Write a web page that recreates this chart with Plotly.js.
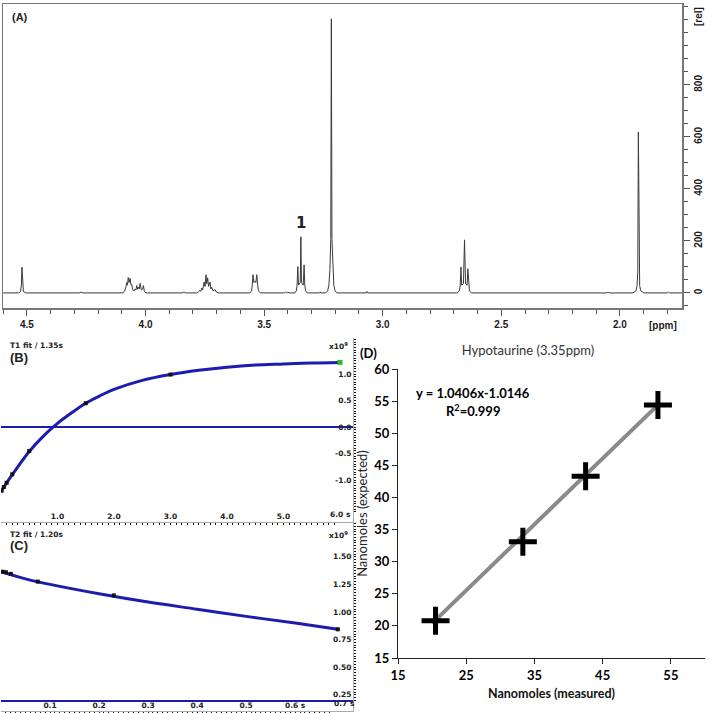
<!DOCTYPE html>
<html>
<head>
<meta charset="utf-8">
<script src="https://cdn.plot.ly/plotly-3.0.1.min.js"></script>
<style>html,body{margin:0;padding:0;background:#fff;}#chart{width:709px;height:713px;}</style>
</head>
<body>
<div id="chart"></div>
<script>
// ---------- Panel A: 1H NMR spectrum (ppm, relative intensity) ----------
const ppm = [4.600,4.535,4.527,4.5235,4.521,4.5185,4.515,4.505,
  4.280,4.272,4.264,
  4.095,4.088,4.082,4.079,4.076,4.073,4.069,4.065,4.061,4.058,4.054,4.048,4.044,4.040,4.037,4.033,4.029,4.026,4.023,4.018,4.013,4.009,4.005,3.998,
  3.845,3.838,3.831,
  3.785,3.777,3.770,3.767,3.763,3.759,3.753,3.749,3.745,3.742,3.738,3.734,3.728,3.725,3.721,3.716,3.712,3.707,3.702,3.694,
  3.560,3.553,3.550,3.547,3.543,3.539,3.535,3.531,3.527,3.524,3.516,
  3.415,3.410,3.405,3.400,3.395,
  3.370,3.364,3.361,3.358,3.355,3.3475,3.345,3.3425,3.335,3.3315,3.3285,3.325,3.318,
  3.268,3.264,3.260,
  3.240,3.232,3.227,3.2225,3.219,3.2165,3.214,3.2105,3.206,3.201,3.193,
  3.070,3.067,3.064,
  2.685,2.677,2.673,2.670,2.667,2.6595,2.655,2.6505,2.644,2.641,2.638,2.634,2.626,
  2.055,2.050,2.045,
  1.945,1.932,1.9275,1.9245,1.922,1.9195,1.9165,1.912,1.899,
  1.800,1.795,1.790,1.738];
const intensity = [0,0,5,30,99,30,5,0,
  0,3,0,
  0,8,25,40,30,59,40,56,30,32,12,8,15,12,28,14,22,16,37,12,14,28,6,0,
  0,3,0,
  0,4,10,6,19,12,42,25,70,35,58,25,42,15,22,8,10,13,4,0,
  0,8,30,70,40,45,40,70,30,8,0,
  0,3,0,3,0,
  0,8,30,101,30,40,216,40,30,108,30,8,0,
  0,3,0,
  0,8,30,90,205,1054,205,90,30,8,0,
  0,6,0,
  0,8,30,100,30,35,204,35,30,93,30,8,0,
  0,3,0,
  0,8,28,80,619,80,28,8,0,
  0,3,0,0];
const ppmTicks = [4.5,4.0,3.5,3.0,2.5,2.0];
const ppmTickText = ['4.5','4.0','3.5','3.0','2.5','2.0'];
const relTicks = [0,200,400,600,800];
const relTickText = ['0','200','400','600','800'];

// ---------- Panel B: T1 fit (s, x10^9) ----------
const t1Time = [0.01,0.05,0.1,0.2,0.5,1.5,3.0];
const t1Signal = [-1.20,-1.13,-1.05,-0.89,-0.45,0.45,0.99];
const t1LastTime = [6.0];
const t1LastSignal = [1.22];
const t1FitTime = [0,0.1,0.25,0.5,0.75,1.0,1.25,1.5,1.75,2.0,2.5,3.0,3.5,4.0,4.5,5.0,5.5,6.0];
const t1FitSignal = [-1.22,-1.05,-0.82,-0.46,-0.17,0.07,0.27,0.45,0.59,0.71,0.88,0.99,1.07,1.13,1.17,1.19,1.21,1.22];
const t1Ticks = [1,2,3,4,5];
const t1TickText = ['1.0','2.0','3.0','4.0','5.0'];
const t1EndTick = 6.0, t1EndText = '6.0 s';
const t1YTicks = [1.0,0.5,0.0,-0.5,-1.0];
const t1YTickText = ['1.0','0.5','0.0','-0.5','-1.0'];

// ---------- Panel C: T2 fit (s, x10^9) ----------
const t2Time = [0.003,0.01,0.02,0.075,0.23,0.687];
const t2Signal = [1.365,1.36,1.345,1.275,1.15,0.843];
const t2FitTime = [0,0.05,0.1,0.2,0.3,0.4,0.5,0.6,0.687];
const t2FitSignal = [1.365,1.30,1.25,1.165,1.09,1.025,0.96,0.90,0.843];
const t2BaseTime = [0,0.718];
const t2BaseSignal = [0.194,0.194];
const t2Ticks = [0.1,0.2,0.3,0.4,0.5,0.6];
const t2TickText = ['0.1','0.2','0.3','0.4','0.5','0.6 s'];
const t2EndTick = 0.7, t2EndText = '0.7 s';
const t2YTicks = [0.25,0.5,0.75,1.0,1.25,1.5];
const t2YTickText = ['0.25','0.50','0.75','1.00','1.25','1.50'];

// ---------- Panel D: calibration ----------
const measured = [20.5,33.3,42.5,53.1];
const expected = [20.8,33.1,43.3,54.4];
const trendX = [20.0,53.0];
const trendY = [20.4,54.3];
const dXTicks = [15,25,35,45,55];
const dYTicks = [15,20,25,30,35,40,45,50,55,60];

// ---------- helpers for placement (pixel -> paper) ----------
const W = 709, H = 713;
const px = x => x / W;
const py = y => 1 - y / H;
function range(a, b, s) { const o = []; for (let v = a; v <= b + 1e-9; v += s) o.push(+v.toFixed(4)); return o; }
const bold = arr => arr.map(s => '<b>' + s + '</b>');

const blue = '#1c1cae';
const nmrFont = {family: 'Liberation Sans, Arial, sans-serif', size: 10, color: '#1a1a1a', weight: 700};
const smallFont = {family: 'DejaVu Sans, sans-serif', size: 7.5, color: '#222', weight: 700};
const dFont = {family: 'Lato, Open Sans, sans-serif', size: 13, color: '#000', weight: 700};

const traces = [
  {x: ppm, y: intensity, xaxis: 'x', yaxis: 'y', mode: 'lines', line: {color: '#3a3a3a', width: 1}, hoverinfo: 'skip'},
  {x: t1FitTime, y: t1FitSignal, xaxis: 'x2', yaxis: 'y2', mode: 'lines', line: {color: blue, width: 3, shape: 'spline'}},
  {x: t1Time, y: t1Signal, xaxis: 'x2', yaxis: 'y2', mode: 'markers', marker: {symbol: 'square', size: 4, color: '#111'}},
  {x: t1LastTime, y: t1LastSignal, xaxis: 'x2', yaxis: 'y2', mode: 'markers', marker: {symbol: 'square', size: 5, color: '#2db82d'}},
  {x: t2BaseTime, y: t2BaseSignal, xaxis: 'x3', yaxis: 'y3', mode: 'lines', line: {color: blue, width: 2}},
  {x: t2FitTime, y: t2FitSignal, xaxis: 'x3', yaxis: 'y3', mode: 'lines', line: {color: blue, width: 3, shape: 'spline'}},
  {x: t2Time, y: t2Signal, xaxis: 'x3', yaxis: 'y3', mode: 'markers', marker: {symbol: 'square', size: 4, color: '#111'}},
  {x: trendX, y: trendY, xaxis: 'x4', yaxis: 'y4', mode: 'lines', line: {color: '#8a8a8a', width: 4}},
  {x: measured, y: expected, xaxis: 'x4', yaxis: 'y4', mode: 'markers', marker: {symbol: 'cross-thin', size: 20, line: {width: 5, color: '#000'}}}
];

const layout = {
  width: W, height: H,
  margin: {l: 0, r: 0, t: 0, b: 0},
  paper_bgcolor: '#fff', plot_bgcolor: '#fff',
  showlegend: false,
  title: {text: 'Hypotaurine (3.35ppm)', x: px(528), y: py(350), xref: 'paper', yref: 'paper', xanchor: 'center', yanchor: 'middle',
          font: {family: 'Lato, Open Sans, sans-serif', size: 13, color: '#333'}},
  // Panel A
  xaxis: {domain: [px(3), px(682)], range: [4.601, 1.738], anchor: 'y', showline: true, linecolor: '#777', linewidth: 1.5, mirror: true,
          ticks: 'outside', ticklen: 6, tickcolor: '#555', tickvals: ppmTicks, ticktext: bold(ppmTickText), tickfont: nmrFont,
          minor: {tickmode: 'array', tickvals: range(1.8, 4.6, 0.1), ticks: 'outside', ticklen: 4, tickcolor: '#555'},
          showgrid: false, zeroline: false, fixedrange: true},
  yaxis: {domain: [py(308), py(4)], range: [-58, 1111], anchor: 'x', side: 'right', showline: true, linecolor: '#777', linewidth: 1.5, mirror: true,
          ticks: 'outside', ticklen: 6, tickcolor: '#555', tickvals: relTicks, ticktext: bold(relTickText), tickangle: -90, tickfont: nmrFont,
          minor: {tickmode: 'array', tickvals: range(-50, 1100, 50), ticks: 'outside', ticklen: 4, tickcolor: '#555'},
          showgrid: false, zeroline: false, fixedrange: true},
  // Panel B
  xaxis2: {domain: [px(1), px(353)], range: [0, 6.23], anchor: 'y2', showline: true, linecolor: '#aaa', linewidth: 1,
           ticks: 'outside', ticklen: 2, tickcolor: '#111', ticklabelposition: 'inside', tickvals: t1Ticks, ticktext: bold(t1TickText), tickfont: smallFont,
           minor: {tickmode: 'array', tickvals: range(0.1, 6.2, 0.1), ticks: 'outside', ticklen: 2, tickcolor: '#111'},
           showgrid: false, zeroline: false},
  yaxis2: {domain: [py(522), py(338)], range: [-1.79, 1.68], anchor: 'x2', side: 'right', showline: true, linecolor: '#aaa', linewidth: 1,
           ticks: 'outside', ticklen: 2, tickcolor: '#111', ticklabelposition: 'inside', tickvals: t1YTicks, ticktext: bold(t1YTickText), tickfont: smallFont,
           minor: {tickmode: 'array', tickvals: range(-1.75, 1.65, 0.05), ticks: 'outside', ticklen: 2, tickcolor: '#111'},
           showgrid: false, zeroline: true, zerolinecolor: blue, zerolinewidth: 2},
  // Panel C
  xaxis3: {domain: [px(1), px(353)], range: [0, 0.718], anchor: 'y3', showline: true, linecolor: '#aaa', linewidth: 1,
           ticks: 'outside', ticklen: 2, tickcolor: '#111', ticklabelposition: 'inside', tickvals: t2Ticks, ticktext: bold(t2TickText), tickfont: smallFont,
           minor: {tickmode: 'array', tickvals: range(0.01, 0.71, 0.01), ticks: 'outside', ticklen: 2, tickcolor: '#111'},
           showgrid: false, zeroline: false},
  yaxis3: {domain: [py(711), py(522)], range: [0.103, 1.815], anchor: 'x3', side: 'right', showline: true, linecolor: '#aaa', linewidth: 1,
           ticks: 'outside', ticklen: 2, tickcolor: '#111', ticklabelposition: 'inside', tickvals: t2YTicks, ticktext: bold(t2YTickText), tickfont: smallFont,
           minor: {tickmode: 'array', tickvals: range(0.125, 1.8, 0.025), ticks: 'outside', ticklen: 2, tickcolor: '#111'},
           showgrid: false, zeroline: false},
  // Panel D
  xaxis4: {domain: [px(398), px(705)], range: [15, 60], anchor: 'y4', showline: true, linecolor: '#222', linewidth: 1,
           ticks: 'outside', ticklen: 5, tickcolor: '#222', tickvals: dXTicks, ticktext: bold(dXTicks), tickfont: dFont,
           title: {text: '<b>Nanomoles (measured)</b>', font: {family: 'Lato, Open Sans, sans-serif', size: 12.5, color: '#111', weight: 700}, standoff: 7},
           showgrid: false, zeroline: false, automargin: false},
  yaxis4: {domain: [py(658), py(369)], range: [15, 60], anchor: 'x4', showline: true, linecolor: '#222', linewidth: 1,
           ticks: 'outside', ticklen: 5, tickcolor: '#222', tickvals: dYTicks, ticktext: bold(dYTicks), tickfont: dFont,
           title: {text: 'Nanomoles (expected)', font: {family: 'Lato, Open Sans, sans-serif', size: 13, color: '#222'}, standoff: 3},
           showgrid: false, zeroline: false, automargin: false},
  annotations: [
    {text: '<b>(A)</b>', x: px(20), y: py(17), xref: 'paper', yref: 'paper', showarrow: false, xanchor: 'center', yanchor: 'middle',
     font: {family: 'Liberation Sans, Arial, sans-serif', size: 11, color: '#222'}},
    {text: '<b>1</b>', x: px(301), y: py(223), xref: 'paper', yref: 'paper', showarrow: false, xanchor: 'center', yanchor: 'middle',
     font: {family: 'DejaVu Sans, sans-serif', size: 15, color: '#222'}},
    {text: '<b>[ppm]</b>', x: px(663), y: py(325), xref: 'paper', yref: 'paper', showarrow: false, xanchor: 'center', yanchor: 'middle', font: nmrFont},
    {text: '<b>[rel]</b>', x: px(698), y: py(17), xref: 'paper', yref: 'paper', showarrow: false, xanchor: 'center', yanchor: 'middle', textangle: -90, font: nmrFont},
    {text: '<b>' + t1EndText + '</b>', x: t1EndTick, xref: 'x2', y: py(514), yref: 'paper', showarrow: false, xanchor: 'center', yanchor: 'middle', font: smallFont},
    {text: '<b>' + t2EndText + '</b>', x: t2EndTick, xref: 'x3', y: py(703), yref: 'paper', showarrow: false, xanchor: 'center', yanchor: 'middle', font: smallFont},
    {text: '<b>T1 fit / 1.35s</b>', x: px(8), y: py(345), xref: 'paper', yref: 'paper', showarrow: false, xanchor: 'left', yanchor: 'middle', font: smallFont},
    {text: '<b>(B)</b>', x: px(8), y: py(357), xref: 'paper', yref: 'paper', showarrow: false, xanchor: 'left', yanchor: 'middle',
     font: {family: 'Liberation Sans, Arial, sans-serif', size: 13, color: '#222'}},
    {text: '<b>x10<sup>9</sup></b>', x: px(338), y: py(346), xref: 'paper', yref: 'paper', showarrow: false, xanchor: 'center', yanchor: 'middle', font: smallFont},
    {text: '<b>T2 fit / 1.20s</b>', x: px(8), y: py(534), xref: 'paper', yref: 'paper', showarrow: false, xanchor: 'left', yanchor: 'middle', font: smallFont},
    {text: '<b>(C)</b>', x: px(8), y: py(545), xref: 'paper', yref: 'paper', showarrow: false, xanchor: 'left', yanchor: 'middle',
     font: {family: 'Liberation Sans, Arial, sans-serif', size: 13, color: '#222'}},
    {text: '<b>x10<sup>9</sup></b>', x: px(338), y: py(535), xref: 'paper', yref: 'paper', showarrow: false, xanchor: 'center', yanchor: 'middle', font: smallFont},
    {text: '<b>(D)</b>', x: px(368), y: py(353), xref: 'paper', yref: 'paper', showarrow: false, xanchor: 'center', yanchor: 'middle', font: dFont},
    {text: '<b>y = 1.0406x-1.0146</b>', x: px(473), y: py(393), xref: 'paper', yref: 'paper', showarrow: false, xanchor: 'center', yanchor: 'middle', font: dFont},
    {text: '<b>R<sup>2</sup>=0.999</b>', x: px(473), y: py(410), xref: 'paper', yref: 'paper', showarrow: false, xanchor: 'center', yanchor: 'middle', font: dFont}
  ]
};

Plotly.newPlot('chart', traces, layout, {staticPlot: true, displayModeBar: false});
</script>
</body>
</html>
